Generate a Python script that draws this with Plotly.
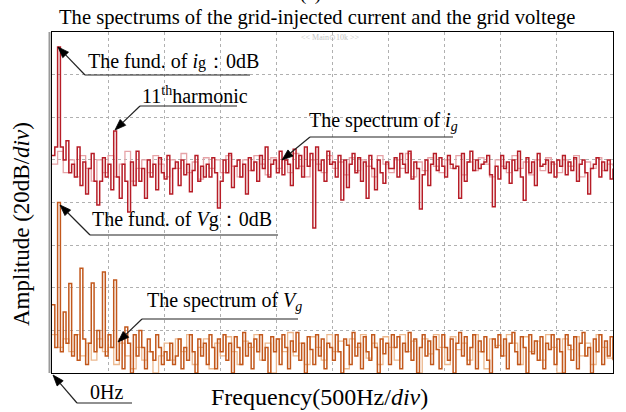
"""
Oscilloscope FFT screenshot: spectra of the grid-injected current i_g and grid voltage V_g.
Y axis in screen divisions (20 dB/div), x axis in Hz (500 Hz/div).
"""
import math

import plotly.graph_objects as go

# ── data (in divisions above the bottom line) ───────────────────────────────
freq_hz = list(range(0, 5001, 25))          # FFT bins, 25 Hz apart
freq_hz_light = list(range(0, 5001, 50))    # the dimmer persistence trace

ig_dark = [
    5.1, 5.3, 7.65, 5.3, 5.0, 5.45, 4.7, 4.9, 4.6, 5.3, 4.4, 4.95, 4.2, 4.8, 5.15, 4.5, 3.94, 4.5, 5.05, 4.6,
    4.9, 4.3, 5.68, 4.6, 4.1, 4.9, 4.5, 3.78, 4.95, 4.4, 5.2, 4.5, 4.8, 4.1, 5.0, 4.6, 4.9, 4.3, 5.05, 4.7,
    4.55, 5.1, 4.2, 4.8, 4.95, 4.4, 5.0, 4.65, 4.9, 4.25, 4.75, 5.1, 4.5, 4.85, 4.6, 4.9, 4.6, 5.05, 4.7, 3.87,
    4.5, 5.0, 4.7, 5.15, 4.35, 4.85, 5.0, 4.6, 4.9, 4.2, 5.05, 4.75, 4.95, 4.5, 5.1, 4.8, 5.3, 4.6, 4.9, 5.0,
    4.7, 5.2, 4.65, 5.0, 4.9, 4.4, 5.25, 4.8, 5.1, 4.6, 5.3, 4.85, 5.15, 3.4, 5.3, 4.75, 5.0, 4.5, 5.2, 4.9,
    4.95, 4.6, 5.1, 4.06, 5.0, 4.35, 4.9, 5.15, 4.7, 5.05, 4.5, 4.95, 4.1, 5.1, 4.8, 4.3, 5.0, 4.7, 4.45, 4.95,
    4.8, 4.8, 5.05, 4.6, 5.15, 4.9, 4.7, 5.2, 4.55, 4.95, 4.8, 3.85, 4.65, 5.0, 4.4, 4.9, 5.15, 4.75, 5.05, 4.85,
    4.6, 5.1, 4.9, 4.8, 4.85, 4.1, 5.15, 4.5, 4.95, 5.2, 4.75, 5.0, 4.8, 4.9, 4.95, 5.1, 4.65, 3.9, 4.85, 4.55,
    5.1, 4.8, 4.95, 4.45, 5.0, 4.75, 5.2, 4.6, 4.05, 5.05, 4.7, 4.95, 4.4, 5.15, 4.85, 4.9, 5.0, 4.7, 4.95, 4.6,
    5.0, 4.85, 5.1, 4.65, 4.95, 4.75, 5.05, 4.5, 4.9, 5.0, 4.7, 4.2, 4.8, 4.9, 5.05, 4.6, 4.95, 4.75, 5.0, 4.55,
    4.8,
]

ig_light = [
    4.9, 5.2, 4.7, 5.0, 4.6, 5.1, 4.8, 4.5, 5.0, 4.7,
    5.1, 4.6, 4.9, 5.2, 4.5, 4.8, 5.0, 4.7, 5.1, 4.9,
    4.6, 5.0, 4.8, 5.15, 4.7, 4.95, 4.55, 5.05, 4.8, 5.0,
    4.7, 5.1, 4.85, 4.6, 5.0, 4.75, 5.1, 4.9, 4.65, 5.05,
    4.8, 5.0, 4.7, 5.15, 4.85, 4.6, 5.0, 4.9, 4.7, 5.1,
    4.8, 4.95, 4.65, 5.05, 4.75, 5.0, 4.85, 4.6, 5.1, 4.9,
    4.7, 5.0, 4.8, 5.15, 4.6, 4.95, 4.75, 5.05, 4.85, 4.7,
    5.0, 4.8, 5.1, 4.65, 4.95, 4.75, 5.05, 4.9, 4.6, 5.0,
    4.85, 4.7, 5.1, 4.8, 4.95, 4.65, 5.0, 4.75, 5.05, 4.9,
    4.7, 5.0, 4.85, 5.1, 4.6, 4.95, 4.8, 5.05, 4.75, 4.9,
    4.85,
]

vg_dark = [
    1.6, 0.6, 4.0, 0.5, 1.43, 0.7, 2.1, 0.4, 0.9, 0.3, 2.46, 0.8, 0.2, 0.7, 2.11, 0.5, 1.0, 0.6, 2.37, 0.4,
    0.9, 0.6, 2.18, 0.3, 0.8, 0.1, 1.08, 0.7, 0.0, 0.9, 0.4, 1.0, 0.6, 0.1, 0.8, 0.5, 0.3, 0.9, 0.6, 0.2,
    0.5, 0.3, 0.7, 0.2, 0.4, 0.8, 0.1, 0.6, 0.3, 0.9, 0.5, 0.0, 0.8, 0.4, 0.7, 0.2, 0.9, 0.6, 0.1, 0.8,
    0.5, 0.9, 0.3, 0.7, 0.0, 0.85, 0.6, 0.2, 0.95, 0.4, 0.7, 0.1, 0.8, 0.5, 0.9, 0.3, 0.6, 0.0, 0.85, 0.5,
    0.8, 0.2, 0.9, 0.6, 0.1, 0.75, 0.5, 0.95, 0.3, 0.7, 0.0, 0.85, 0.55, 0.2, 0.9, 0.4, 0.8, 0.1, 0.7, 0.6,
    0.3, 0.9, 0.5, 0.0, 0.8, 0.65, 0.2, 0.95, 0.4, 0.7, 0.1, 0.85, 0.5, 0.3, 0.9, 0.6, 0.0, 0.8, 0.45, 0.7,
    0.2, 0.9, 0.6, 0.85, 0.1, 0.7, 0.5, 0.95, 0.3, 0.8, 0.0, 0.6, 0.9, 0.4, 0.75, 0.2, 0.85, 0.55, 0.1, 0.9,
    0.6, 0.3, 0.8, 0.0, 0.7, 0.95, 0.4, 0.85, 0.2, 0.6, 0.9, 0.1, 0.75, 0.5, 0.85, 0.3, 0.0, 0.8, 0.6, 0.9,
    0.4, 0.8, 0.1, 0.7, 0.95, 0.5, 0.2, 0.85, 0.6, 0.0, 0.9, 0.45, 0.75, 0.3, 0.85, 0.1, 0.7, 0.55, 0.9, 0.2,
    0.8, 0.5, 0.0, 0.9, 0.65, 0.3, 0.85, 0.1, 0.7, 0.95, 0.4, 0.6, 0.0, 0.8, 0.5, 0.9, 0.2, 0.75, 0.4, 0.85,
    0.3,
]

vg_light = [
    0.9, 0.6, 0.8, 0.5, 0.9, 0.4, 0.7, 0.3, 0.8, 0.5,
    0.6, 0.2, 0.7, 0.4, 0.1, 0.6, 0.3, 0.5, 0.0, 0.4,
    0.7, 0.3, 0.8, 0.5, 0.9, 0.2, 0.6, 0.8, 0.1, 0.7,
    0.4, 0.85, 0.5, 0.2, 0.75, 0.6, 0.9, 0.3, 0.7, 0.0,
    0.8, 0.5, 0.95, 0.4, 0.7, 0.2, 0.85, 0.6, 0.3, 0.9,
    0.5, 0.75, 0.1, 0.8, 0.6, 0.9, 0.35, 0.7, 0.2, 0.85,
    0.6, 0.3, 0.9, 0.5, 0.75, 0.0, 0.8, 0.45, 0.9, 0.6,
    0.2, 0.85, 0.55, 0.7, 0.3, 0.9, 0.5, 0.1, 0.8, 0.65,
    0.4, 0.9, 0.7, 0.2, 0.85, 0.5, 0.75, 0.3, 0.9, 0.6,
    0.0, 0.8, 0.55, 0.85, 0.4, 0.7, 0.2, 0.9, 0.6, 0.35,
    0.8,
]

# ── page geometry (px) ────────────────────────────────────────────────────────
W, H = 626, 412
L, R, T, B = 52, 613, 32, 373
FONT = "Liberation Serif, Times New Roman, serif"


def _paper(x, y):
    """Screen pixel -> paper coordinates."""
    return (x - L) / (R - L), (B - y) / (B - T)


def _text(fig, x, y, text, size=20, **kw):
    px_, py_ = _paper(x, y)
    fig.add_annotation(x=px_, y=py_, xref="paper", yref="paper", text=text,
                       showarrow=False, xanchor=kw.get("xanchor", "left"),
                       yanchor="middle", font=dict(family=FONT, size=size,
                                                   color=kw.get("color", "black")),
                       textangle=kw.get("angle", 0))


def _line(fig, p0, p1, color="#222", width=1.2):
    x0, y0 = _paper(*p0)
    x1, y1 = _paper(*p1)
    fig.add_shape(type="line", xref="paper", yref="paper", x0=x0, x1=x1, y0=y0, y1=y1,
                  line=dict(color=color, width=width))


def _callout(fig, line_x0, line_x1, line_y, tip, head=11, half=4):
    """Underline + diagonal leader ending in a filled arrow head at `tip`."""
    _line(fig, (line_x0, line_y), (line_x1, line_y))
    dx, dy = line_x0 - tip[0], line_y - tip[1]
    n = math.hypot(dx, dy)
    ux, uy = dx / n, dy / n
    base = (tip[0] + ux * head, tip[1] + uy * head)
    _line(fig, (line_x0, line_y), base)
    pts = [tip,
           (base[0] - uy * half, base[1] + ux * half),
           (base[0] + uy * half, base[1] - ux * half)]
    pts = [_paper(*p) for p in pts]
    path = "M {} {} L {} {} L {} {} Z".format(*[c for p in pts for c in p])
    fig.add_shape(type="path", xref="paper", yref="paper", path=path,
                  fillcolor="black", line=dict(color="black", width=0.8))


fig = go.Figure()

for xs, ys, color, width in [
    (freq_hz_light, ig_light, "#e6a3a7", 1.3),
    (freq_hz, ig_dark, "#b71d27", 1.5),
    (freq_hz_light, vg_light, "#ecb88e", 1.3),
    (freq_hz, vg_dark, "#c2581c", 1.5),
]:
    fig.add_trace(go.Scatter(x=xs, y=ys, mode="lines", line=dict(color=color, width=width, shape="hv"),
                             hoverinfo="skip", showlegend=False))

grid = dict(showgrid=True, gridcolor="#b0b0b0", griddash="dot", gridwidth=1,
            showticklabels=False, ticks="", zeroline=False,
            showline=True, linecolor="black", linewidth=1.2, mirror=True)
fig.update_xaxes(range=[0, 5000], dtick=500, tick0=0, **grid)
fig.update_yaxes(range=[0, 8], dtick=1, tick0=0, **grid)

# grey double edge on the left of the screen
_line(fig, (49.5, T), (49.5, B), color="#9a9a9a", width=2)

# titles
_text(fig, 317, 17, "The spectrums of the grid-injected current and the grid voltege", 20.6, xanchor="center")
_text(fig, 310, -6, "(a)", 19, xanchor="center")
_text(fig, 330, 38, "&lt;&lt; Main⊙10k &gt;&gt;", 8, xanchor="center", color="#c4c4c4")
_text(fig, 319, 397, "Frequency(500Hz/<i>div</i>)", 24, xanchor="center")
_text(fig, 22, 224, "Amplitude (20dB/<i>div</i>)", 23, xanchor="center", angle=-90)

# callouts
_text(fig, 86, 61, "The fund. of <i>i</i><span style='font-size:16px'>g</span>：0dB")
_callout(fig, 85, 250, 75, (58, 47))

_text(fig, 140, 95, "11<sup>th</sup>harmonic")
_callout(fig, 140, 237, 106, (115, 130))

_text(fig, 307, 121, "The spectrum of <i>i<sub>g</sub></i>")
_callout(fig, 310, 453, 137, (282, 160))

_text(fig, 90, 220, "The fund. of <i>V</i>g：0dB")
_callout(fig, 90, 278, 235, (60, 205))

_text(fig, 145, 301, "The spectrum of <i>V<sub>g</sub></i>")
_callout(fig, 142, 298, 319, (118, 342))

_text(fig, 88, 392, "0Hz")
_callout(fig, 77, 132, 403, (53, 375))

fig.update_layout(
    width=W, height=H,
    margin=dict(l=L, r=W - R, t=T, b=H - B),
    paper_bgcolor="white", plot_bgcolor="white",
    showlegend=False,
)

# the page body has a default 8px margin; drop it so pixels line up with the window
fig.write_html("out.html", config={"displayModeBar": False},
               post_script="document.body.style.margin='0';")
